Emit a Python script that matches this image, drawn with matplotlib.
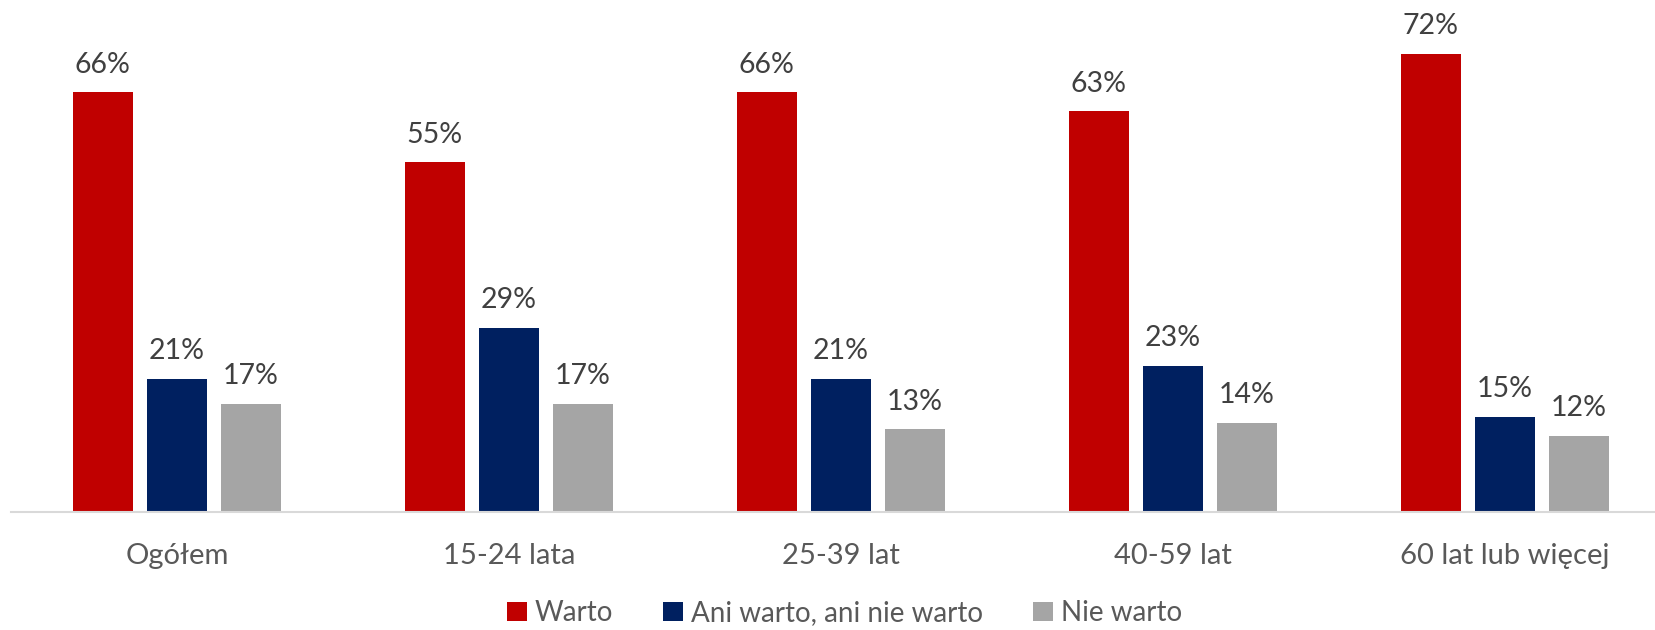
import numpy as np
import matplotlib.pyplot as plt

plt.rcParams['font.family'] = ['Lato', 'DejaVu Sans']

categories = ['Ogółem', '15-24 lata', '25-39 lat', '40-59 lat', '60 lat lub więcej']
series = ['Warto', 'Ani warto, ani nie warto', 'Nie warto']
warto = [66, 55, 66, 63, 72]
ani = [21, 29, 21, 23, 15]
nie = [17, 17, 13, 14, 12]
colors = ['#c00000', '#002060', '#a5a5a5']

fig = plt.figure(figsize=(16.56, 6.3), dpi=100)
ax = fig.add_axes([0.0066, 0.187, 0.9934, 0.813])

x = np.arange(len(categories))
width = 0.18
step = 0.223
for i, (vals, name, col) in enumerate(zip([warto, ani, nie], series, colors)):
    pos = x + (i - 1) * step
    ax.bar(pos, vals, width=width, color=col, label=name)
    for p, v in zip(pos, vals):
        ax.text(p, v + 2.3, f'{v}%', ha='center', va='bottom', fontsize=20.5, color='#404040')

ax.set_xlim(-0.5, 4.455)
ax.set_ylim(0, 80.5)
ax.set_yticks([])
ax.set_xticks(x)
ax.set_xticklabels(categories, fontsize=21, color='#595959')
ax.tick_params(axis='x', length=0, pad=22)
for s in ['top', 'right', 'left']:
    ax.spines[s].set_visible(False)
ax.spines['bottom'].set_color('#d9d9d9')
ax.spines['bottom'].set_linewidth(1.5)

fig.legend(loc='center', bbox_to_anchor=(0.51, 0.027), ncol=3, frameon=False,
           fontsize=20, handlelength=0.7, handleheight=0.7, handletextpad=0.3,
           columnspacing=1.8, labelcolor='#595959')

fig.savefig('out.png', dpi=100)
